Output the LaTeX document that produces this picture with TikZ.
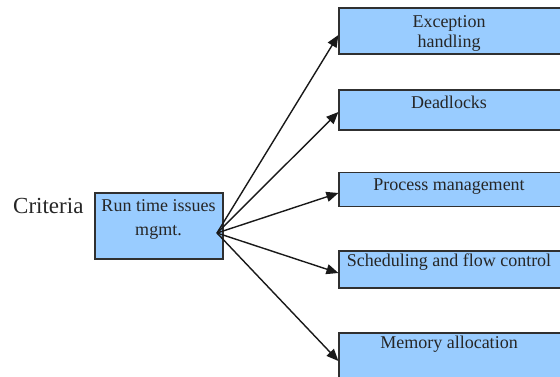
\documentclass[tikz,border=0pt]{standalone}
\usepackage{fontspec}
\setmainfont{Liberation Serif}
\usetikzlibrary{arrows.meta}
\definecolor{boxfill}{HTML}{99CCFF}
\definecolor{boxline}{HTML}{303030}
\tikzset{
  box/.style={draw=boxline, fill=boxfill, line width=1.2pt, rectangle, inner sep=0pt},
  lbl/.style={font=\fontsize{18pt}{24pt}\selectfont, inner sep=0pt, align=center, text=black!85},
  conn/.style={line width=1.4pt, black!90, -{Triangle[length=12pt,width=10pt]}}
}
\begin{document}
\begin{tikzpicture}[x=1pt,y=-1pt]
\useasboundingbox[fill=white] (0,0) rectangle (560,376);
% central box
\node[box, minimum width=128pt, minimum height=66pt] (c) at (159,226) {};
\node[lbl, anchor=base] (ct1) at (158.5,211) {Run time issues};
\node[lbl, anchor=base] (ct2) at (158.5,235) {mgmt.};
\node[lbl, anchor=base west, font=\fontsize{23pt}{28pt}\selectfont] (crit) at (13,213) {Criteria};
% right boxes
\node[box, minimum width=231pt, minimum height=46pt] (b1) at (454.5,31) {};
\node[box, minimum width=231pt, minimum height=40pt] (b2) at (454.5,110) {};
\node[box, minimum width=231pt, minimum height=34pt] (b3) at (454.5,189.5) {};
\node[box, minimum width=231pt, minimum height=37pt] (b4) at (454.5,269.5) {};
\node[box, minimum width=231pt, minimum height=50pt] (b5) at (454.5,358) {};
\node[lbl, anchor=base] (t1a) at (449,27) {Exception};
\node[lbl, anchor=base] (t1b) at (449,47) {handling};
\node[lbl, anchor=base] (t2) at (449,108) {Deadlocks};
\node[lbl, anchor=base] (t3) at (449,190.5) {Process management};
\node[lbl, anchor=base] (t4) at (449,266.5) {Scheduling and flow control};
\node[lbl, anchor=base] (t5) at (449,348) {Memory allocation};
% connectors
\coordinate (hub) at (217,233);
\draw[conn] (hub) -- ([yshift=-4pt]b1.west);
\draw[conn] (hub) -- ([yshift=-2pt]b2.west);
\draw[conn] (hub) -- ([yshift=-3.5pt]b3.west);
\draw[conn] (hub) -- ([yshift=-3.5pt]b4.west);
\draw[conn] (hub) -- ([yshift=-3pt]b5.west);
\end{tikzpicture}
\end{document}
